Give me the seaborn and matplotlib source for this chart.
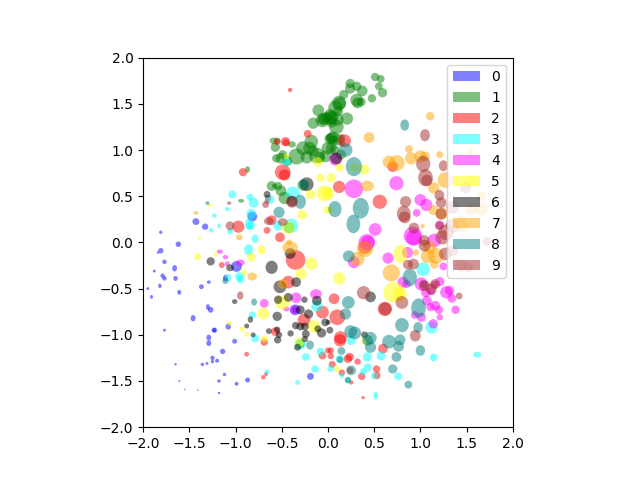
import numpy as np
import pandas as pd
import seaborn as sns
import matplotlib.pyplot as plt
from matplotlib.patches import Patch
from matplotlib.path import Path
from matplotlib.transforms import Affine2D

# ---------------- Values (x, y, width, height per class) ----------------
x0 = [-1.62, -1.81, -1.84, -1.77, -1.66, -1.88, -1.79, -1.77, -1.65, -1.82, -1.95, -1.91, -1.61, -1.37, -1.29, -1.30, -1.27, -1.46, -1.77, -1.23, -1.23, -1.08, -1.29, -1.29, -1.01, -1.14, -1.25, -1.20, -1.25, -1.31, -1.36, -1.65, -1.12, -1.18, -1.61, -0.99, -0.87, -1.55, -1.41, -1.18, -0.19, -0.99, -1.11, -0.355, -0.355, -1.81, -1.43, -1.33, -0.82]
y0 = [-0.02, -0.09, -0.11, -0.21, -0.28, -0.31, -0.36, -0.39, -0.39, -0.47, -0.50, -0.59, -0.54, -0.48, -0.43, -0.70, -0.73, -0.82, -0.95, -0.95, -0.95, -0.91, -1.03, -1.09, -1.07, -1.18, -1.25, -1.28, -1.29, -1.31, -1.32, -1.32, -1.43, -1.50, -1.50, -1.53, -1.49, -1.59, -1.60, -1.63, -1.45, -0.26, -0.385, -0.73, -0.73, 0.11, 0.225, 0.17, 0.28]
w0 = [.055, .055, .025, .045, .05, .03, .045, .045, .045, .035, .03, .03, .04, .05, .04, .04, .055, .05, .03, .055, .04, .055, .05, .05, .05, .055, .045, .04, .035, .03, .035, .025, .035, .035, .02, .04, .05, .015, .015, .025, .07, .11, .05, .11, .06, .035, .07, .065, .10]
h0 = [.055, .055, .025, .045, .065, .03, .045, .045, .05, .045, .03, .04, .05, .05, .035, .06, .06, .065, .03, .055, .04, .065, .06, .06, .05, .055, .045, .04, .035, .03, .035, .025, .035, .035, .02, .04, .05, .015, .015, .025, .07, .11, .065, .11, .06, .035, .07, .065, .10]

x1 = [.51, .57, .55, .59, .475, .37, .31, .24, .24, .17, .31, .36, .32, .12, .125, .08, .205, .035, .03, .09, .04, .055, .02, .11, .035, -.105, -.16, -.06, -.04, -.01, -.055, .01, -.18, -.27, -.20, 0, -.59, -.55, -.39, -.57, -.49, -.56, -.51, -.34, -.44, -.23, -.12, -.09, -.16, -.87, -.94, -.61, -.58, -.54, -.51, -.47, -.27, -.42, 1.03, -.30, .10, .02, .11, .04, .06, .07, -.03, .14]
y1 = [1.79, 1.77, 1.69, 1.62, 1.56, 1.64, 1.69, 1.72, 1.665, 1.60, 1.54, 1.52, 1.51, 1.51, 1.50, 1.46, 1.34, 1.35, 1.34, 1.25, 1.30, 1.135, 1.12, 1.11, 1.02, 1.43, 1.29, 1.32, 1.34, 1.35, 1.33, 1.13, 1.09, 1.02, 1.02, 1.02, 1.10, 1.10, 1.06, 1.03, .95, .91, .91, .93, .88, .92, .94, .92, .99, .79, .45, .61, .61, .61, .56, .48, .62, .16, -.45, -1.10, 1.33, 1.38, 1.42, 1.13, 1.10, 1.0, .93, .95]
w1 = [.085, .08, .08, .095, .085, .11, .095, .095, .105, .095, .13, .09, .11, .145, .13, .145, .125, .145, .13, .15, .11, .125, .11, .115, .11, .12, .115, .14, .125, .11, .11, .07, .14, .14, .13, .13, .08, .065, .08, .095, .09, .085, .11, .165, .10, .125, .16, .11, .11, .05, .06, .10, .05, .085, .11, .125, .115, .11, .08, .09, .13, .12, .10, .11, .10, .10, .12, .10]
h1 = [.085, .08, .08, .095, .085, .11, .095, .095, .105, .095, .13, .09, .11, .145, .13, .145, .125, .145, .13, .15, .11, .125, .11, .115, .11, .12, .115, .14, .125, .11, .11, .07, .14, .14, .13, .13, .065, .065, .065, .095, .09, .085, .11, .165, .10, .125, .16, .11, .11, .065, .04, .10, .05, .085, .11, .125, .115, .11, .08, .09, .13, .12, .10, .11, .10, .10, .12, .10]

x2 = [-.41, -.22, -.55, -.46, -.455, -.49, -.47, -.92, -.65, -.66, -.97, -.61, -.66, -.52, .18, .56, .12, .70, -.35, -1.15, -.43, -.06, -.26, -.57, -.69, -.88, -.06, -.67, -.70, 0, .065, .10, .135, .13, .615, .595, .03, .03, .235, .215, .32, .045, .24, .15, .525, .53, .365, .25, .38, .40]
y2 = [1.65, 1.175, 1.09, 1.09, 1.08, .76, .73, .76, .48, .445, .17, .24, .13, .055, 1.10, .44, .60, .82, -.19, -.245, -.43, -.755, -.84, -.965, -1.08, -1.21, -1.225, -1.425, -1.46, -1.17, -.61, -.81, -1.03, -1.06, -.72, -1.15, -1.17, -1.23, -1.24, -1.26, -1.29, -1.32, -1.385, -1.41, -1.37, -1.44, -1.45, -1.515, -1.68, -.05]
w2 = [.045, .08, .07, .095, .07, .16, .115, .085, .065, .05, .125, .10, .07, .10, .13, .145, .125, .11, .20, .06, .13, .13, .13, .09, .075, .05, .08, .04, .045, .06, .11, .16, .13, .125, .145, .10, .065, .065, .085, .085, .065, .07, .07, .065, .075, .075, .075, .045, .035, .14]
h2 = list(w2)

x3 = [-1.035, -.845, -.805, -1.23, -1.09, -1.18, -1.265, -1.06, -.83, -.85, -.84, -.79, -.63, -.38, -.54, -.40, -.45, -.86, -1.08, -.96, -.95, -.82, -.79, -.66, -.24, -.14, -.33, -.08, -.12, -.30, 1.03, 1.12, .25, .425, .575, .125, 1.145, 1.615, .03, .43, .38, .15, .50, .76, .215, .515, .515]
y3 = [.52, .49, .43, .29, .36, .18, .13, .12, .31, .20, .18, .04, .465, .53, .18, .18, .875, -.08, -.38, -.37, -.40, -.785, -1.04, -1.40, -1.24, -1.37, -1.515, -1.185, -.69, -1.10, -.29, -.92, -1.06, -1.24, -1.23, -1.26, -1.245, -1.215, -1.365, -1.355, -1.40, -1.44, -1.445, -1.45, -1.495, -1.645, -1.68]
w3 = [.08, .07, .10, .045, .045, .035, .045, .06, .10, .09, .09, .07, .095, .14, .10, .145, .09, .09, .065, .09, .07, .07, .08, .05, .08, .075, .05, .085, .115, .11, .14, .125, .095, .095, .09, .08, .08, .08, .07, .085, .07, .05, .07, .08, .06, .05, .04]
h3 = [.08, .07, .10, .045, .045, .05, .045, .06, .10, .115, .09, .085, .095, .14, .10, .145, .09, .115, .08, .09, .085, .07, .08, .05, .08, .075, .05, .085, .115, .11, .14, .125, .095, .095, .09, .08, .08, .06, .07, .085, .07, .05, .07, .08, .06, .05, .04]

x4 = [-1.17, -1.11, -1.09, -.95, -.69, -.345, -.13, -.45, -.36, .08, .28, .74, .51, .42, 1.0, 1.065, .96, .92, .93, 1.21, 1.15, .43, .65, .28, .86, .81, .85, 1.01, 1.06, 1.21, 1.15, 1.12, 1.315, 1.28, 1.34, 1.07, 1.16, 1.11, 1.20, 1.21, 1.38, .94, 1.01, 1.14, 1.25]
y4 = [-.10, -.16, -.23, -.22, -.66, -.60, -.56, -.72, -.73, .90, .58, .64, .14, 0, .46, .405, .32, .07, .05, .19, .02, 0, -.17, -.215, -.11, -.43, -.45, -.45, -.54, -.425, -.46, -.53, -.52, -.54, -.605, -.63, -.685, -.70, -.73, -.81, -.73, -.785, -.81, -.88, -.26]
w4 = [.06, .055, .05, .09, .09, .11, .12, .065, .09, .13, .19, .145, .13, .17, .12, .125, .08, .19, .16, .09, .14, .14, .115, .12, .115, .11, .085, .135, .10, .095, .08, .08, .095, .125, .09, .10, .10, .085, .085, .065, .085, .08, .095, .095, .08]
h4 = [.045, .045, .05, .065, .09, .11, .10, .05, .09, .13, .19, .145, .13, .17, .12, .125, .08, .19, .16, .09, .14, .14, .115, .12, .115, .11, .085, .135, .10, .095, .08, .08, .095, .125, .09, .10, .10, .085, .085, .065, .085, .08, .095, .095, .08]

x5 = [-1.28, -1.39, -.45, -.11, -.08, -.04, -.19, -.28, -.01, -.43, .035, .125, .39, .29, 0, .02, -1.41, -1.215, -.83, -.72, -.18, -.29, -.91, -.70, -.495, -1.07, -.93, -.88, -.69, -.31, -.15, .12, .71, .78, .42, .10, .785, 1.55]
y5 = [.40, .045, .93, .87, .70, .53, .52, .30, .35, .16, .70, .81, .79, .81, .53, .355, -.155, -.13, -.16, -.08, -.23, -.34, -.325, -.77, -.65, -.875, -.94, -.995, -1.045, -1.08, -.91, -.39, -.54, -.56, -1.06, -1.37, -.125, .67]
w5 = [.035, .035, .06, .10, .085, .16, .10, .10, .08, .13, .095, .085, .105, .10, .13, .06, .065, .035, .09, .08, .125, .115, .06, .12, .145, .05, .05, .045, .07, .10, .13, .125, .21, .14, .11, .065, .14, .13]
h5 = [.035, .035, .06, .10, .085, .16, .10, .10, .08, .13, .095, .085, .105, .10, .13, .06, .08, .06, .09, .095, .125, .115, .06, .12, .145, .05, .05, .055, .07, .10, .13, .125, .21, .14, .11, .065, .19, .13]

x6 = [-.66, -.23, -.39, .09, -1.27, -1.06, -.61, -.41, -.52, -.345, -.54, -.43, -1.01, -.255, -.12, -.30, -.21, -.55, -.84, -.88, -.35, -.30, -.25, -.24, -.64, -.55, -.53, -.545, -.405, -.81, -.25, -.33, -.11, -.07, -.03, .46, .02, 0, .395]
y6 = [.52, .63, .445, .91, -.205, -.275, -.27, -.12, -.48, -.43, -.62, -.595, -.64, -.62, -.63, -.73, -.775, -.80, -.835, -.905, -.90, -.91, -.91, -.99, -.96, -.945, -1.0, -1.055, -.985, -1.0, -1.045, -1.135, -.935, -.98, -.865, -.59, -.95, -.865, -1.0]
w6 = [.07, .14, .11, .12, .085, .08, .125, .11, .13, .10, .085, .09, .055, .065, .10, .09, .095, .095, .055, .05, .075, .08, .08, .08, .06, .065, .065, .075, .065, .05, .065, .07, .07, .095, .08, .11, .07, .05, .07]
h6 = [.07, .14, .11, .12, .085, .07, .135, .11, .13, .10, .085, .09, .05, .065, .10, .09, .095, .095, .065, .05, .075, .08, .08, .08, .06, .065, .065, .075, .065, .05, .065, .07, .07, .095, .08, .11, .07, .05, .07]

x7 = [-1.43, -.96, -.42, -.41, -.82, -.49, .445, 1.105, .875, 1.21, .66, .745, .90, 1.0, 1.05, .425, 1.27, 1.145, 1.14, 1.23, 1.025, 1.44, 1.55, 1.66, 1.66, 1.46, 1.54, .32, .40, .685, .95, 1.08, 1.15, 1.17, 1.10]
y7 = [.32, .055, 0, -.055, -.37, -.45, 1.135, 1.365, 1.01, .95, .87, .86, .91, .93, .93, .61, .675, .59, .35, .31, .175, .22, .36, .36, .50, .165, .985, -.18, -.07, -.33, -.11, -.15, -.24, -.145, -.055]
w7 = [.055, .07, .06, .16, .10, .10, .11, .085, .08, .07, .13, .16, .125, .125, .10, .135, .16, .115, .10, .125, .045, .13, .115, .13, .095, .11, .065, .145, .165, .175, .065, .145, .085, .16, .13]
h7 = [.035, .06, .06, .125, .08, .10, .11, .085, .08, .07, .13, .16, .125, .125, .10, .11, .16, .115, .10, .125, .045, .13, .115, .13, .095, .11, .065, .145, .165, .175, .065, .145, .085, .16, .13]

x8 = [-1.305, -.53, -.30, -.26, .83, .19, .28, .075, .355, .275, -1.11, -.80, -.195, .225, .22, .19, .885, .98, .80, .975, .245, .29, .46, .43, .46, .66, .78, .765, .74, 1.0, .145, .13, .25, .70, .87, .215]
y8 = [.425, .325, .44, .63, 1.27, 1.0, .82, .36, .37, .20, -.415, -.645, -1.11, -.15, -.65, -.775, -.38, -.71, -.895, -.92, -.965, -.98, -1.035, -1.06, -1.135, -1.075, -1.055, -1.125, -1.24, -1.17, -1.175, -1.27, -1.385, -1.37, -1.54, -1.49]
w8 = [.04, .115, .115, .10, .09, .14, .165, .135, .165, .14, .065, .06, .08, .12, .13, .115, .145, .15, .14, .095, .13, .13, .125, .11, .115, .14, .11, .11, .10, .095, .08, .07, .10, .095, .08, .065]
h8 = [.04, .115, .145, .10, .115, .14, .195, .165, .21, .19, .065, .075, .095, .12, .13, .115, .18, .195, .145, .11, .13, .13, .125, .11, .115, .14, .11, .11, .10, .11, .08, .07, .10, .095, .08, .065]

x9 = [-1.07, -1.06, -.675, -.64, -.49, -.39, .15, 1.05, 1.25, 1.03, 1.055, 1.07, 1.205, 1.225, .84, .82, .83, .93, 1.04, 1.225, 1.205, 1.24, 1.49, 1.72, 1.35, 1.35, 1.28, .385, .80, .62, .945, .865, .925, 1.115, 1.16, 1.42, 1.27, 1.045, 1.44, 1.52, 1.35, 1.045, -.95]
y9 = [.425, .18, .41, .23, .22, .44, 1.105, 1.16, .83, .85, .70, .67, .51, .43, .44, .31, .27, .155, .02, .31, .18, .055, .59, .01, .38, .18, .11, -.545, -.65, -.72, -1.01, -.24, -.235, -.505, -.45, -.58, -.125, -.035, -.25, -.27, -.09, -.47, -.575]
w9 = [.045, .09, .07, .10, .10, .12, .07, .10, .095, .145, .15, .115, .10, .11, .115, .14, .12, .11, .11, .115, .09, .145, .11, .09, .13, .145, .16, .135, .13, .13, .11, .10, .11, .115, .10, .07, .13, .12, .12, .095, .11, .11, .065]
h9 = [.035, .09, .07, .08, .08, .12, .13, .125, .11, .165, .175, .115, .11, .11, .115, .165, .12, .11, .11, .115, .09, .145, .11, .09, .13, .145, .16, .135, .13, .13, .12, .10, .11, .115, .10, .07, .13, .12, .12, .095, .11, .11, .085]

classes = [(x0, y0, w0, h0), (x1, y1, w1, h1), (x2, y2, w2, h2), (x3, y3, w3, h3), (x4, y4, w4, h4),
           (x5, y5, w5, h5), (x6, y6, w6, h6), (x7, y7, w7, h7), (x8, y8, w8, h8), (x9, y9, w9, h9)]
colors = ['blue', 'green', 'red', 'cyan', 'magenta', 'yellow', 'black', 'orange', 'teal', 'brown']
labels = ['0', '1', '2', '3', '4', '5', '6', '7', '8', '9']

fig, ax = plt.subplots(figsize=(6.4, 4.8), dpi=100)
ax.set_aspect('equal')

# points per data unit once the square axes are 370 px wide, a bit over since my readings ran small
pt_per_unit = 370 / 4 * 72 / 100 * 1.06

for (xs, ys, ws, hs), color in zip(classes, colors):
    df = pd.DataFrame({'x': xs, 'y': ys, 'w': ws, 'h': hs})
    sns.scatterplot(data=df, x='x', y='y', s=(df['w'] * pt_per_unit) ** 2,
                    color=color, alpha=0.5, linewidth=0, legend=False, ax=ax)
    # scatter markers are round, stretch each one to its own height
    circle = Path.unit_circle()
    paths = [circle.transformed(Affine2D().scale(0.5, 0.5 * h / w)) for w, h in zip(ws, hs)]
    ax.collections[-1].set_paths(paths)

ax.set_xlim(-2, 2)
ax.set_ylim(-2, 2)
ax.set_xlabel('')
ax.set_ylabel('')
ax.set_xticks(np.arange(-2, 2.5, 0.5))
ax.set_yticks(np.arange(-2, 2.5, 0.5))

handles = [Patch(facecolor=c, edgecolor='none', alpha=0.5, label=l) for c, l in zip(colors, labels)]
ax.legend(handles=handles, loc='upper right')

fig.savefig('out.png', dpi=100)
